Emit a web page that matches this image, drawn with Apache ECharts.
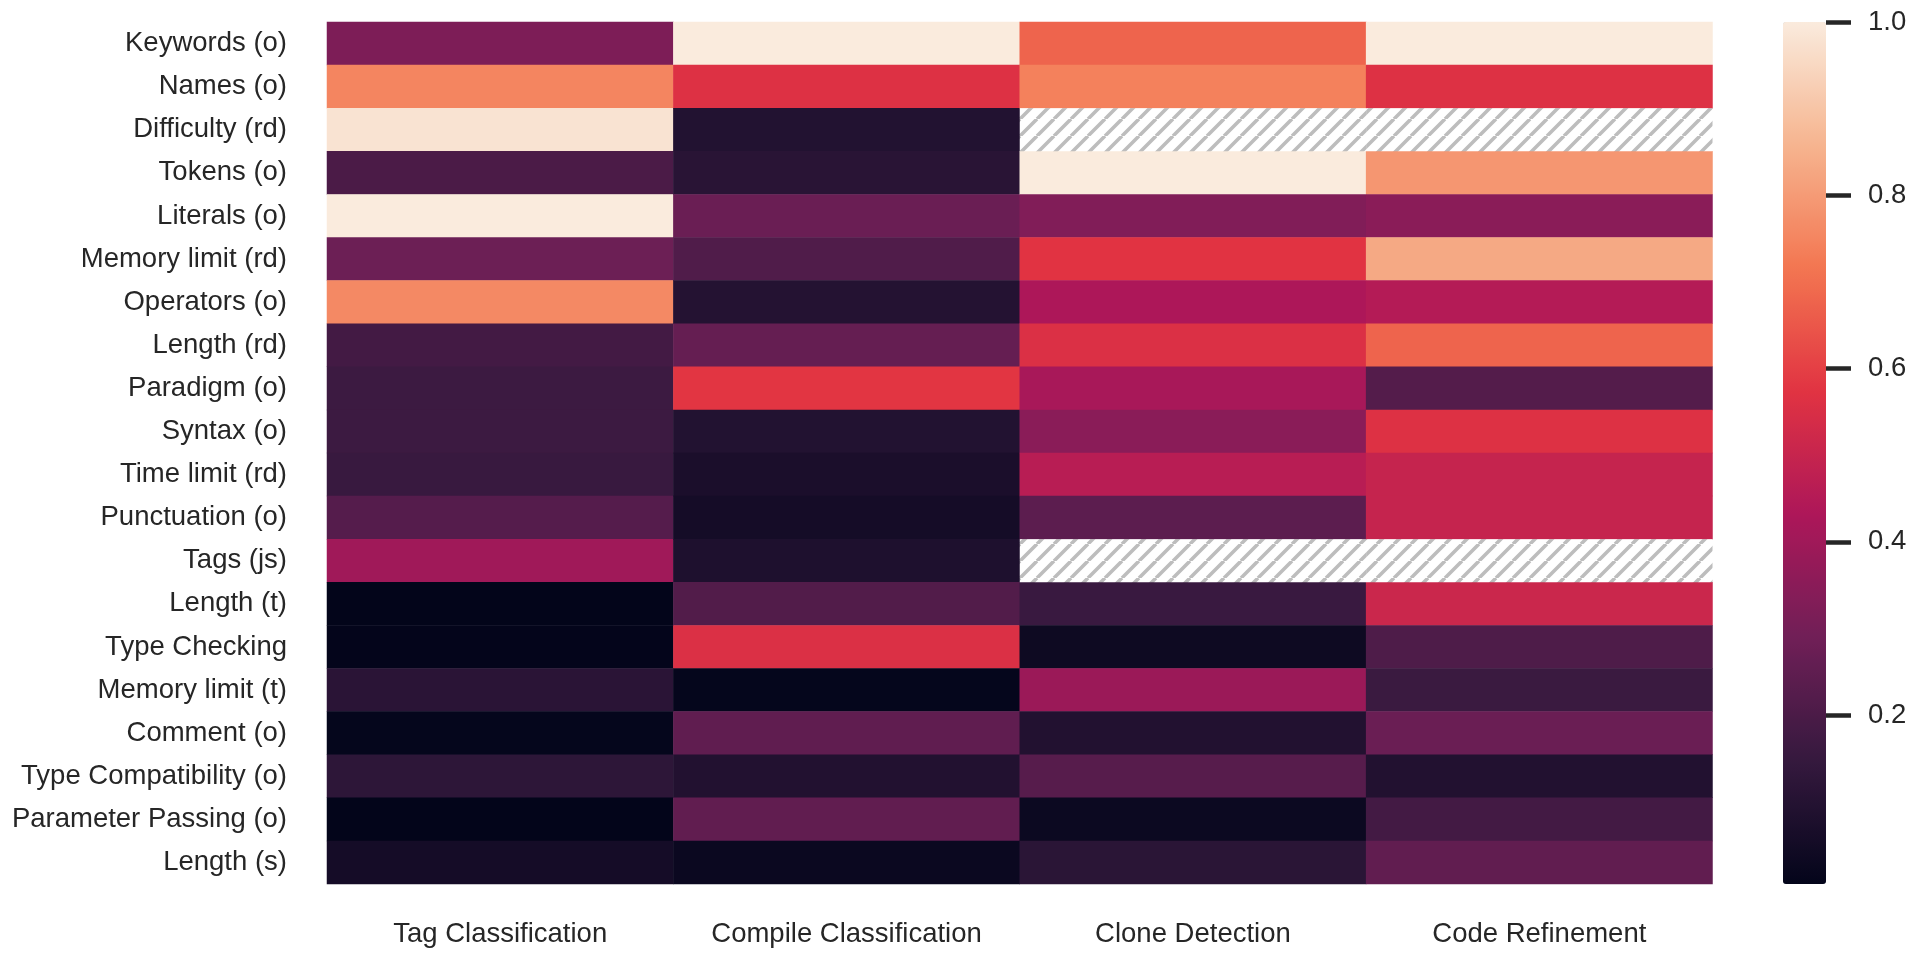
<!DOCTYPE html>
<html>
<head>
<meta charset="utf-8">
<script src="https://cdn.jsdelivr.net/npm/echarts@6/dist/echarts.min.js"></script>
<style>
html,body{margin:0;padding:0;background:#ffffff;}
#chart{width:1920px;height:960px;}
</style>
</head>
<body>
<div id="chart"></div>
<script>
// ---- data ----
const features = [
  'Keywords (o)', 'Names (o)', 'Difficulty (rd)', 'Tokens (o)', 'Literals (o)',
  'Memory limit (rd)', 'Operators (o)', 'Length (rd)', 'Paradigm (o)', 'Syntax (o)',
  'Time limit (rd)', 'Punctuation (o)', 'Tags (js)', 'Length (t)', 'Type Checking',
  'Memory limit (t)', 'Comment (o)', 'Type Compatibility (o)', 'Parameter Passing (o)', 'Length (s)'
];
const tasks = ['Tag Classification', 'Compile Classification', 'Clone Detection', 'Code Refinement'];

const tagClassification = [
  0.32, 0.75, 0.98, 0.20, 1.00, 0.28, 0.76, 0.18, 0.165, 0.165,
  0.155, 0.225, 0.40, 0.006, 0.008, 0.115, 0.012, 0.123, 0.005, 0.055
];
const compileClassification = [
  1.00, 0.563, 0.094, 0.112, 0.274, 0.213, 0.10, 0.262, 0.578, 0.094,
  0.072, 0.057, 0.083, 0.218, 0.558, 0.012, 0.25, 0.092, 0.252, 0.029
];
const cloneDetection = [
  0.678, 0.74, null, 1.00, 0.328, 0.573, 0.431, 0.558, 0.419, 0.349,
  0.462, 0.242, null, 0.157, 0.037, 0.389, 0.092, 0.228, 0.031, 0.117
];
const codeRefinement = [
  1.00, 0.563, null, 0.79, 0.349, 0.832, 0.451, 0.678, 0.223, 0.563,
  0.497, 0.497, null, 0.511, 0.208, 0.16, 0.274, 0.092, 0.182, 0.252
];
const colorbarTicks = [0.2, 0.4, 0.6, 0.8, 1.0];
const rocket = ['#03051a', '#35193e', '#701f57', '#ad1759', '#e13342', '#f37651', '#f6b48f', '#faebdd'];

// ---- build ----
const columns = [tagClassification, compileClassification, cloneDetection, codeRefinement];
const cells = [];
const missing = [];
columns.forEach(function (col, c) {
  col.forEach(function (v, r) {
    if (v === null) missing.push([c, r]);
    else cells.push([c, r, v]);
  });
});
const allVals = cells.map(function (d) { return d[2]; });
const vmin = Math.min.apply(null, allVals);
const vmax = Math.max.apply(null, allVals);

function makeHatch() {
  const s = 17;
  const cv = document.createElement('canvas');
  cv.width = s; cv.height = s;
  const ctx = cv.getContext('2d');
  ctx.fillStyle = '#ffffff';
  ctx.fillRect(0, 0, s, s);
  ctx.strokeStyle = '#bdbdbd';
  ctx.lineWidth = 3.6;
  ctx.beginPath();
  [-s, 0, s].forEach(function (o) { ctx.moveTo(o, s); ctx.lineTo(o + s, 0); });
  ctx.stroke();
  return cv;
}
const hatch = makeHatch();

const FONT = "Arial, 'Liberation Sans', sans-serif";
const TXT = '#262626';
const FS = 27.5;

const chart = echarts.init(document.getElementById('chart'), null, { renderer: 'canvas' });
chart.setOption({
  animation: false,
  backgroundColor: '#ffffff',
  grid: [
    { left: 327, top: 22, width: 1385.5, height: 862 },
    { left: 1783, top: 22, width: 43, height: 862 }
  ],
  xAxis: [
    {
      gridIndex: 0, type: 'category', data: tasks, position: 'bottom',
      axisLine: { show: false }, axisTick: { show: false }, splitLine: { show: false },
      axisLabel: { interval: 0, fontSize: FS, color: TXT, fontFamily: FONT, margin: 36 }
    },
    { gridIndex: 1, type: 'value', min: 0, max: 1, show: false }
  ],
  yAxis: [
    {
      gridIndex: 0, type: 'category', data: features, inverse: true,
      axisLine: { show: false }, axisTick: { show: false }, splitLine: { show: false },
      axisLabel: { interval: 0, fontSize: FS, color: TXT, fontFamily: FONT, margin: 40 }
    },
    {
      gridIndex: 1, type: 'value', min: vmin, max: vmax, position: 'right',
      axisLine: { show: false, onZero: false }, splitLine: { show: false },
      axisTick: { show: true, length: 25, lineStyle: { color: TXT, width: 4.5 }, customValues: colorbarTicks },
      axisLabel: {
        customValues: colorbarTicks, fontSize: FS, color: TXT, fontFamily: FONT, margin: 42,
        formatter: function (v) { return Number(v).toFixed(1); }
      }
    }
  ],
  visualMap: {
    type: 'continuous', seriesIndex: 0, min: vmin, max: vmax,
    calculable: false, orient: 'vertical', left: 1783, top: 22,
    itemWidth: 43, itemHeight: 862, padding: 0, text: null, hoverLink: false,
    inRange: { color: rocket }
  },
  series: [
    {
      type: 'heatmap', xAxisIndex: 0, yAxisIndex: 0, data: cells,
      itemStyle: { borderWidth: 0 },
      emphasis: { disabled: true }, progressive: 0
    },
    {
      type: 'custom', xAxisIndex: 0, yAxisIndex: 0, data: missing, silent: true,
      renderItem: function (params, api) {
        const p = api.coord([api.value(0), api.value(1)]);
        const sz = api.size([1, 1]);
        return {
          type: 'rect',
          shape: { x: p[0] - sz[0] / 2, y: p[1] - sz[1] / 2, width: sz[0], height: sz[1] },
          style: { fill: { image: hatch, repeat: 'repeat' }, stroke: null }
        };
      }
    }
  ]
});
</script>
</body>
</html>
